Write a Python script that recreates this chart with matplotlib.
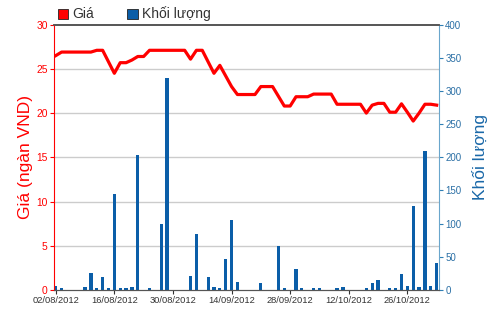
import numpy as np
import matplotlib
matplotlib.use("Agg")
import matplotlib.pyplot as plt
from matplotlib.patches import Patch

plt.rcParams['font.family'] = ['Liberation Sans', 'DejaVu Sans']

# giá (ngàn VND) theo phiên giao dịch
price = [26.5, 26.9, 26.9, 26.9, 26.9, 26.9, 26.9, 27.1, 27.1, 25.8,
         24.5, 25.7, 25.7, 26.0, 26.4, 26.4, 27.1, 27.1, 27.1, 27.1,
         27.1, 27.1, 27.1, 26.1, 27.1, 27.1, 25.8, 24.5, 25.4, 24.2,
         23.0, 22.1, 22.1, 22.1, 22.1, 23.0, 23.0, 23.0, 21.9, 20.8,
         20.8, 21.85, 21.85, 21.85, 22.15, 22.15, 22.15, 22.15, 21.0, 21.0,
         21.0, 21.0, 21.0, 20.0, 20.9, 21.1, 21.1, 20.1, 20.1, 21.05,
         20.1, 19.1, 20.0, 21.0, 21.0, 20.9]

# khối lượng
volume = [6, 2.5, 0, 0, 0, 4, 25, 2.5, 20, 2.5,
          144, 2.5, 2.5, 4, 203, 0, 2.5, 0, 100, 320,
          0, 0, 0, 21, 84, 0, 19, 4, 2.5, 47,
          105, 12, 0, 0, 0, 10, 0, 0, 67, 2.5,
          0, 31, 2.5, 0, 2.5, 2.5, 0, 0, 2.5, 4,
          0, 0, 0, 2.5, 10, 15, 0, 2.5, 2.5, 24.5,
          6, 127, 4, 210, 6, 40]

tick_pos = [0, 10, 20, 30, 40, 50, 60]
tick_labels = ["02/08/2012", "16/08/2012", "30/08/2012", "14/09/2012",
               "28/09/2012", "12/10/2012", "26/10/2012"]

red = "#ff0000"
bar_blue = "#0b5ea8"
axis_blue = "#2f7fb5"

x = np.arange(len(price))

fig = plt.figure(figsize=(5, 3.12), dpi=100)
ax = fig.add_axes([0.108, 0.0705, 0.77, 0.8505])
ax2 = ax.twinx()

# cột khối lượng (trục phải)
ax2.bar(x, volume, width=0.55, color=bar_blue, zorder=2)
ax2.set_ylim(0, 400)
ax2.set_yticks(range(0, 401, 50))

# đường giá (trục trái) vẽ lên trên
ax.set_zorder(ax2.get_zorder() + 1)
ax.patch.set_visible(False)
ax.plot(x, price, color=red, lw=2.3, zorder=3)
ax.set_ylim(0, 30)
ax.set_yticks(range(0, 31, 5))
ax.set_xlim(-0.3, 65.4)
ax.set_xticks(tick_pos)
ax.set_xticklabels(tick_labels)
ax2.set_xlim(-0.3, 65.4)

# lưới ngang
for v in range(5, 30, 5):
    ax2.axhline(v * 400 / 30, color="#cccccc", lw=1, zorder=1)

ax.tick_params(axis='y', colors=red, labelsize=7.4, length=3, width=0.8, pad=1.5)
ax.tick_params(axis='x', colors="#333333", labelsize=6.7, length=3, width=0.8, pad=1.5)
ax2.tick_params(axis='y', colors=axis_blue, labelsize=7, length=3, width=0.8, pad=1.5)
ax2.tick_params(axis='y', labelcolor="#2a6fa5")

for a in (ax, ax2):
    a.spines['top'].set_color("#555555")
    a.spines['top'].set_linewidth(1.2)
    a.spines['bottom'].set_color("#555555")
ax.spines['left'].set_color(red)
ax.spines['right'].set_visible(False)
ax2.spines['left'].set_visible(False)
ax2.spines['right'].set_color("#6aa6cc")

ax.set_ylabel("Giá (ngàn VND)", color=red, fontsize=12.5, labelpad=2)
ax2.set_ylabel("Khối lượng", color="#1a68a8", fontsize=12.5, labelpad=8)

handles = [Patch(facecolor=red, edgecolor="#222222", lw=0.6, label="Giá"),
           Patch(facecolor=bar_blue, edgecolor="#222222", lw=0.6, label="Khối lượng")]
leg = fig.legend(handles=handles, loc='center left', bbox_to_anchor=(0.115, 0.955),
                 ncol=2, frameon=False, fontsize=10, handlelength=0.75,
                 handleheight=0.75, handletextpad=0.3, columnspacing=2.4,
                 borderpad=0, borderaxespad=0)
for t in leg.get_texts():
    t.set_color("#333333")

fig.savefig("out.png", dpi=100)
